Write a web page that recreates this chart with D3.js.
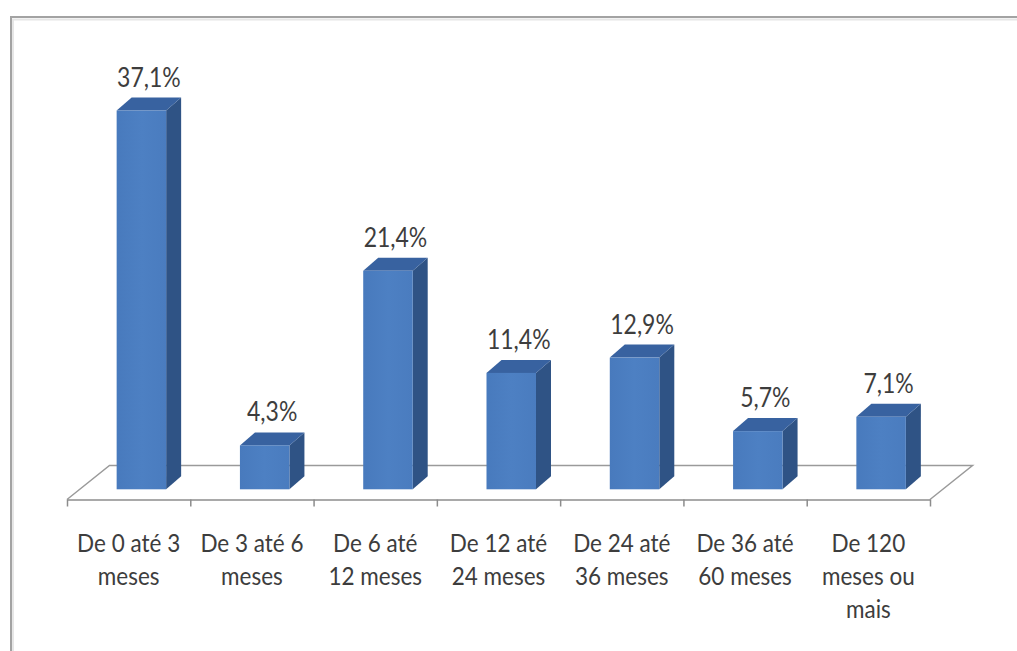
<!DOCTYPE html>
<html>
<head>
<meta charset="utf-8">
<script src="https://cdn.jsdelivr.net/npm/d3@7"></script>
<style>
  html, body { margin: 0; padding: 0; background: #ffffff; }
  svg { display: block; }
  text { font-family: Lato, "Open Sans", sans-serif; fill: #3d3d3d; }
</style>
</head>
<body>
<svg id="chart" width="1017" height="651"></svg>
<script>
// Tempo de permanência — share of cases per duration bracket
const categories = [
  "De 0 até 3\nmeses",
  "De 3 até 6\nmeses",
  "De 6 até\n12 meses",
  "De 12 até\n24 meses",
  "De 24 até\n36 meses",
  "De 36 até\n60 meses",
  "De 120\nmeses ou\nmais"
];
const values = [37.1, 4.3, 21.4, 11.4, 12.9, 5.7, 7.1];

const W = 1017, H = 651;
const svg = d3.select("#chart");

// chart frame (runs off the right and bottom edges)
svg.append("rect")
  .attr("x", 11).attr("y", 17)
  .attr("width", W + 20).attr("height", H + 20)
  .attr("fill", "#ffffff")
  .attr("stroke", "#a3a3a3")
  .attr("stroke-width", 2);
svg.append("path")
  .attr("d", `M13,${H + 10}V19.5H${W + 10}`)
  .attr("fill", "none")
  .attr("stroke", "#e6e6e6")
  .attr("stroke-width", 2);

// floor geometry: front edge, back edge offset for the 3D floor
const floorLeft = 67, floorRight = 930, floorFrontY = 499.5;
const floorDepth = { dx: 42.5, dy: -34 };
const barDepth = { dx: 15, dy: -13 };
const barInset = 0.3;          // bars stand 30% of the way into the floor
const barWidth = 49.5;
const textStretch = 1.14;      // tall, narrow lettering

// category edges (for tick marks) and category bands
const edge = d3.scaleLinear().domain([0, categories.length]).range([floorLeft, floorRight]);
const x = d3.scaleBand().domain(categories).range([floorLeft, floorRight]).padding(0);
const y = d3.scaleLinear().domain([0, 40])
  .range([floorFrontY + floorDepth.dy * barInset, floorFrontY + floorDepth.dy * barInset - 408.4]);

// floor outline
const floor = svg.append("g").attr("class", "floor");
floor.append("path")
  .attr("d", `M${floorLeft},${floorFrontY}L${floorLeft + floorDepth.dx},${floorFrontY + floorDepth.dy}` +
             `H${floorRight + floorDepth.dx}L${floorRight},${floorFrontY}`)
  .attr("fill", "none")
  .attr("stroke", "#9a9a9a")
  .attr("stroke-width", 1.5);

// category axis along the front edge of the floor
const axis = d3.axisBottom(edge)
  .tickValues(d3.range(categories.length + 1))
  .tickFormat("")
  .tickSize(7)
  .tickSizeOuter(0);
const axisG = svg.append("g")
  .attr("transform", `translate(0,${floorFrontY})`)
  .call(axis);
axisG.selectAll("path, line").attr("stroke", "#8c8c8c").attr("stroke-width", 1.5);

// gentle shading across the bar fronts
const defs = svg.append("defs");
const grad = defs.append("linearGradient").attr("id", "front").attr("x1", 0).attr("x2", 1).attr("y1", 0).attr("y2", 0);
grad.append("stop").attr("offset", "0%").attr("stop-color", "#487abd");
grad.append("stop").attr("offset", "50%").attr("stop-color", "#4d80c3");
grad.append("stop").attr("offset", "100%").attr("stop-color", "#4a7cbf");

const data = categories.map((c, i) => ({ c, v: values[i] }));

const bars = svg.append("g").attr("class", "bars")
  .selectAll("g").data(data).join("g");

function frontX(d) {
  return x(d.c) + x.bandwidth() / 2 - barWidth / 2 + floorDepth.dx * barInset;
}

// right side face
bars.append("path")
  .attr("d", d => {
    const x1 = frontX(d) + barWidth, yt = y(d.v), yb = y(0);
    return `M${x1},${yt}L${x1 + barDepth.dx},${yt + barDepth.dy}L${x1 + barDepth.dx},${yb + barDepth.dy}L${x1},${yb}Z`;
  })
  .attr("fill", "#2f5385");

// top face
bars.append("path")
  .attr("d", d => {
    const x0 = frontX(d), yt = y(d.v);
    return `M${x0},${yt}L${x0 + barDepth.dx},${yt + barDepth.dy}H${x0 + barWidth + barDepth.dx}L${x0 + barWidth},${yt}Z`;
  })
  .attr("fill", "#3862a0");

// front face
bars.append("rect")
  .attr("x", d => frontX(d))
  .attr("y", d => y(d.v))
  .attr("width", barWidth)
  .attr("height", d => y(0) - y(d.v))
  .attr("fill", "url(#front)");

// value labels
const fmt = v => d3.format(".1f")(v).replace(".", ",") + "%";
bars.append("text")
  .attr("transform", d => `translate(${frontX(d) + (barWidth + barDepth.dx) / 2},${y(d.v) - 24}) scale(1,${textStretch})`)
  .attr("text-anchor", "middle")
  .attr("font-size", 23)
  .text(d => fmt(d.v));

// category labels, one tspan per line
const labels = svg.append("g").attr("class", "cat-labels")
  .selectAll("text").data(categories).join("text")
  .attr("text-anchor", "middle")
  .attr("font-size", 22.5)
  .attr("transform", c => `translate(${x(c) + x.bandwidth() / 2},552) scale(1,${textStretch})`);
labels.selectAll("tspan").data(c => c.split("\n")).join("tspan")
  .attr("x", 0)
  .attr("dy", (d, i) => i === 0 ? 0 : 33 / textStretch)
  .text(d => d);
</script>
</body>
</html>
